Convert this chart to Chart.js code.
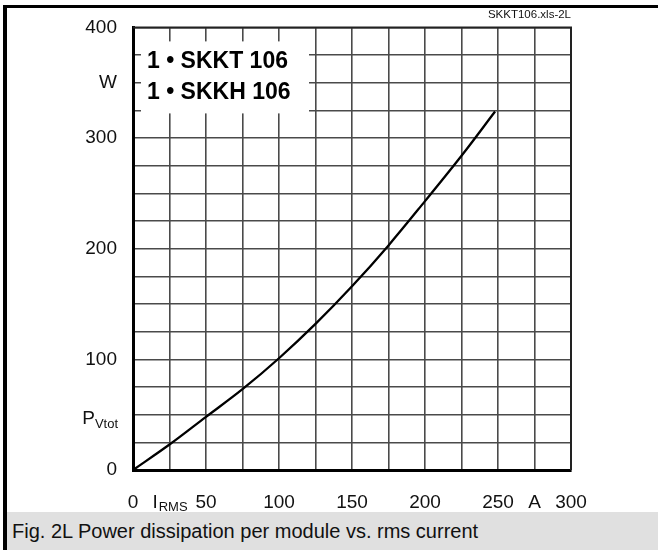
<!DOCTYPE html>
<html>
<head>
<meta charset="utf-8">
<script src="https://cdn.jsdelivr.net/npm/chart.js@4.4.0/dist/chart.umd.min.js"></script>
<style>
  html, body { margin: 0; padding: 0; background: #fff; }
  #wrap { position: relative; width: 658px; height: 550px; overflow: hidden; }
  #c { position: absolute; left: 0; top: 0; }
  #topBorder { position: absolute; left: 3px; top: 5px; width: 655px; height: 3px; background: #000; }
  #leftBorder { position: absolute; left: 3px; top: 5px; width: 4px; height: 545px; background: #000; }
  #caption { position: absolute; left: 7px; top: 512px; width: 651px; height: 38px; background: #e0e0e0;
    font-family: 'Liberation Sans', Arial, sans-serif; font-size: 20px; line-height: 38px; color: #111;
    padding-left: 5px; box-sizing: border-box; white-space: nowrap; }
</style>
</head>
<body>
<div id="wrap">
  <canvas id="c" width="658" height="550"></canvas>
  <div id="topBorder"></div>
  <div id="leftBorder"></div>
  <div id="caption">Fig. 2L Power dissipation per module vs. rms current</div>
</div>
<script>
// ---- data ----
const currentA = [0, 25, 50, 75, 100, 125, 150, 175, 200, 225, 248];
const powerW   = [0, 23, 48, 73, 101, 132, 166, 203, 243, 284, 324];

// tick labels (value -> text); "_" marks a subscript
const xTickValues = [0, 25, 50, 100, 150, 200, 250, 275, 300];
const xTickTexts  = ['0', 'I_RMS', '50', '100', '150', '200', '250', 'A', '300'];
const yTickValues = [0, 50, 100, 200, 300, 350, 400];
const yTickTexts  = ['0', 'P_Vtot', '100', '200', '300', 'W', '400'];

const insetLines = ['1 \u2022 SKKT 106', '1 \u2022 SKKH 106'];
const fileTag = 'SKKT106.xls-2L';

const FONT = "'Liberation Sans', Arial, sans-serif";
const TICK_SIZE = 19;

function lookup(values, texts, v) {
  const i = values.indexOf(v);
  return i < 0 ? '' : texts[i];
}

const annotPlugin = {
  id: 'annot',
  beforeDatasetsDraw(chart) {
    const ctx = chart.ctx, a = chart.chartArea;
    ctx.save();
    // inset white box with part label
    ctx.fillStyle = '#fff';
    ctx.fillRect(a.left + 8, a.top + 14, 168, 72);
    ctx.fillStyle = '#000';
    ctx.font = "bold 23px " + FONT;
    ctx.textAlign = 'left';
    ctx.textBaseline = 'middle';
    ctx.fillText(insetLines[0], a.left + 14, a.top + 34);
    ctx.fillText(insetLines[1], a.left + 14, a.top + 65);
    // frame top & right
    ctx.strokeStyle = '#222';
    ctx.lineWidth = 2;
    ctx.beginPath();
    ctx.moveTo(a.left, a.top);
    ctx.lineTo(a.right, a.top);
    ctx.lineTo(a.right, a.bottom);
    ctx.stroke();
    ctx.restore();
  },
  afterDraw(chart) {
    const ctx = chart.ctx, a = chart.chartArea;
    const xs = chart.scales.x, ys = chart.scales.y;
    ctx.save();
    ctx.fillStyle = '#111';
    // file tag
    ctx.font = "11.5px " + FONT;
    ctx.textAlign = 'right';
    ctx.textBaseline = 'alphabetic';
    ctx.fillText(fileTag, a.right, 18);
    // subscript tick labels
    const big = TICK_SIZE + "px " + FONT, small = "13px " + FONT;
    yTickValues.forEach((v, i) => {
      const t = yTickTexts[i];
      if (t.indexOf('_') < 0) return;
      const [m, s] = t.split('_');
      ctx.font = big; const wm = ctx.measureText(m).width;
      ctx.font = small; const ws = ctx.measureText(s).width;
      const right = a.left - 15;
      const y = ys.getPixelForValue(v);
      ctx.textAlign = 'left';
      ctx.textBaseline = 'alphabetic';
      ctx.font = big; ctx.fillText(m, right - wm - ws, y + 9);
      ctx.font = small; ctx.fillText(s, right - ws, y + 13);
    });
    xTickValues.forEach((v, i) => {
      const t = xTickTexts[i];
      if (t.indexOf('_') < 0) return;
      const [m, s] = t.split('_');
      ctx.font = big; const wm = ctx.measureText(m).width;
      ctx.font = small; const ws = ctx.measureText(s).width;
      const cx = xs.getPixelForValue(v);
      const left = cx - (wm + ws) / 2;
      const base = a.bottom + 38;
      ctx.textAlign = 'left';
      ctx.textBaseline = 'alphabetic';
      ctx.font = big; ctx.fillText(m, left, base);
      ctx.font = small; ctx.fillText(s, left + wm + 1, base + 3);
    });
    ctx.restore();
  }
};

new Chart(document.getElementById('c'), {
  type: 'line',
  data: {
    datasets: [{
      data: currentA.map((x, i) => ({ x: x, y: powerW[i] })),
      borderColor: '#000',
      borderWidth: 2.3,
      pointRadius: 0,
      fill: false,
      tension: 0.35
    }]
  },
  options: {
    responsive: false,
    devicePixelRatio: 1,
    animation: false,
    layout: { padding: { left: 0, right: 87, top: 24, bottom: 0 } },
    plugins: { legend: { display: false }, tooltip: { enabled: false } },
    scales: {
      x: {
        type: 'linear', min: 0, max: 300,
        afterFit(s) { s.height = 80; },
        ticks: {
          stepSize: 25, autoSkip: false, maxRotation: 0, padding: 21,
          color: '#111', font: { family: FONT, size: TICK_SIZE },
          callback: (v) => { const t = lookup(xTickValues, xTickTexts, v); return t.indexOf('_') >= 0 ? '' : t; }
        },
        grid: { color: '#4a4a4a', lineWidth: 1.6, drawTicks: false },
        border: { color: '#000', width: 3 }
      },
      y: {
        type: 'linear', min: 0, max: 400,
        afterFit(s) { s.width = 133; },
        ticks: {
          stepSize: 25, autoSkip: false, padding: 16,
          color: '#111', font: { family: FONT, size: TICK_SIZE },
          callback: (v) => { const t = lookup(yTickValues, yTickTexts, v); return t.indexOf('_') >= 0 ? '' : t; }
        },
        grid: { color: '#4a4a4a', lineWidth: 1.6, drawTicks: false },
        border: { color: '#000', width: 3 }
      }
    }
  },
  plugins: [annotPlugin]
});
</script>
</body>
</html>
